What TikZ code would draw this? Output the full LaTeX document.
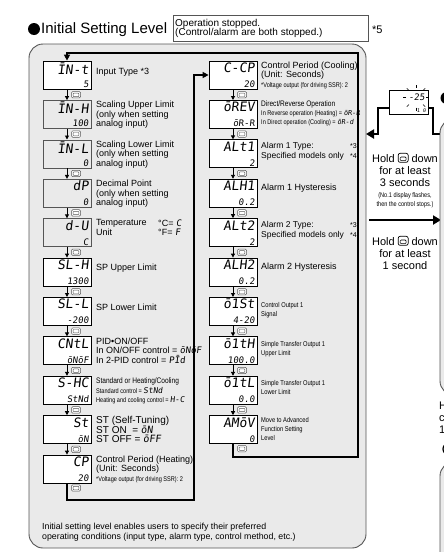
\documentclass[tikz,border=0pt]{standalone}
\usepackage{fontspec}
\setmainfont{Liberation Sans}
\newfontfamily\segfont[FakeSlant=0.12]{DejaVu Sans Mono}
\newfontfamily\narrowfont[FakeStretch=0.82]{Liberation Sans}
\usetikzlibrary{arrows.meta,calc}
\definecolor{panelgray}{RGB}{234,234,234}
\definecolor{edgegray}{RGB}{85,85,85}
\newcommand\sg[1]{{\segfont #1}}
\newcommand\holdkey{\tikz[baseline=-0.5pt,x=1pt,y=1pt]{\draw[line width=0.7pt,rounded corners=2pt] (0,-0.5) rectangle (10,8.5);\draw[line width=0.6pt,rounded corners=1pt] (2,1.2) rectangle (8,4.8);}}
\tikzset{
 panel/.style={draw=edgegray, line width=0.9pt, fill=panelgray, rounded corners=14pt},
 disp/.style={draw=black, line width=0.8pt, fill=white, minimum width=48pt, minimum height=28pt, inner sep=0pt},
 dispgray/.style={draw=edgegray, line width=0.6pt, fill=panelgray},
 segtop/.style={anchor=north east, inner sep=0pt, font=\segfont\fontsize{13}{13}\selectfont},
 segbot/.style={anchor=south east, inner sep=0pt, font=\segfont\fontsize{9}{9}\selectfont},
 lbl/.style={anchor=north west, inner sep=0pt, align=left, font=\fontsize{9}{9.5}\selectfont},
 lblw/.style={anchor=west, inner sep=0pt, font=\fontsize{9}{9.5}\selectfont},
 sml/.style={anchor=west, inner sep=0pt, font=\narrowfont\fontsize{6.8}{7}\selectfont},
 smlb/.style={anchor=north west, inner sep=0pt, align=left, font=\narrowfont\fontsize{7}{9}\selectfont},
 loopline/.style={line width=1.6pt, draw=black},
 flowarrow/.style={line width=0.9pt, -{Triangle[length=4pt,width=4pt]}},
 bigarrow/.style={line width=2.4pt, -{Triangle[length=8pt,width=9pt]}},
 holdtxt/.style={anchor=center, inner sep=0pt, align=center, font=\fontsize{11}{12.3}\selectfont},
 keyicon/.pic={
   \draw[edgegray, line width=0.5pt, fill=white, rounded corners=1.2pt] (-4.5,-3.2) rectangle (4.5,3.2);
   \draw[edgegray, line width=0.45pt, rounded corners=0.6pt] (-2.8,-1.6) rectangle (2.8,1.8);
 },
}
\newcommand\segbox[6]{%
  \node[disp,#6] (#1) at (#2,#3) {};
  \node[segtop] at ([xshift=-2.5pt,yshift=-2pt]#1.north east) {#4};
  \node[segbot] at ([xshift=-2.5pt,yshift=1.5pt]#1.south east) {#5};
}
\begin{document}
\begin{tikzpicture}[x=1pt,y=-1pt]
\clip (0,0) rectangle (444,552);
\fill[white] (0,0) rectangle (444,552);

% ---- title
\fill (34,29) circle (6);
\node[anchor=west, inner sep=0pt, font=\fontsize{15}{15}\selectfont] (title) at (41,30) {Initial Setting Level};
\node[draw=edgegray, line width=0.7pt, minimum width=195pt, minimum height=26pt, anchor=north west, inner sep=0pt] (hdr) at (173,15) {};
\node[anchor=west, inner sep=0pt, align=left, font=\fontsize{10}{9.6}\selectfont] (hdrtxt) at ([xshift=2pt]hdr.west) {Operation stopped.\\(Control/alarm are both stopped.)};
\node[anchor=west, inner sep=0pt, font=\fontsize{11}{11}\selectfont] (n5) at (372,30) {*5};

% ---- main panel
\draw[panel] (29,44) rectangle (366,548);

% ---- left column
\segbox{A1}{67}{75}{ĪN-t}{5}{}
\segbox{A2}{67}{114.4}{ĪN-H}{100}{dispgray}
\segbox{A3}{67}{153.8}{ĪN-L}{0}{dispgray}
\segbox{A4}{67}{193.2}{dP}{0}{dispgray}
\segbox{A5}{67}{232.6}{d-U}{C}{dispgray}
\segbox{A6}{67}{272}{SL-H}{1300}{}
\segbox{A7}{67}{311.4}{SL-L}{-200}{}
\segbox{A8}{67}{350.8}{CNtL}{ōNōF}{}
\segbox{A9}{67}{390.2}{S-HC}{StNd}{}
\segbox{A10}{67}{429.6}{St}{ōN}{}
\segbox{A11}{67}{469}{CP}{20}{}

% ---- right column
\segbox{B1}{233}{75}{C-CP}{20}{}
\segbox{B2}{233}{114.4}{ōREV}{ōR-R}{}
\segbox{B3}{233}{153.8}{ALt1}{2}{}
\segbox{B4}{233}{193.2}{ALH1}{0.2}{}
\segbox{B5}{233}{232.6}{ALt2}{2}{}
\segbox{B6}{233}{272}{ALH2}{0.2}{}
\segbox{B7}{233}{311.4}{ō1St}{4-20}{}
\segbox{B8}{233}{350.8}{ō1tH}{100.0}{}
\segbox{B9}{233}{390.2}{ō1tL}{0.0}{}
\segbox{B10}{233}{429.6}{AMōV}{0}{}

% ---- flow arrows and key icons
\foreach \a/\b in {A1/A2,A2/A3,A3/A4,A4/A5,A5/A6,A6/A7,A7/A8,A8/A9,A9/A10,A10/A11,B1/B2,B2/B3,B3/B4,B4/B5,B5/B6,B6/B7,B7/B8,B8/B9,B9/B10}{
  \draw[flowarrow] (\a.south) -- (\b.north);
  \pic at ($(\a.south)!0.5!(\b.north)+(9,0)$) {keyicon};
}
\pic at (76,488) {keyicon};
\pic at (242,448.6) {keyicon};

% ---- loop lines
\coordinate (l1) at (67,500);
\coordinate (l2) at (194,500);
\coordinate (l3) at (194,75);
\draw[loopline, -{Triangle[length=6pt,width=6pt]}] (A11.south) -- (l1) -- (l2) -- (l3) -- (B1.west);
\coordinate (r1) at (233,457);
\coordinate (r2) at (358,457);
\coordinate (r3) at (358,53);
\coordinate (r4) at (67,53);
\draw[loopline, -{Triangle[length=6pt,width=6pt]}] (B10.south) -- (r1) -- (r2) -- (r3) -- (r4) -- (A1.north);

% ---- left labels
\node[lblw] at (96,72) {Input Type *3};
\node[lbl] at (96,101) {Scaling Upper Limit\\(only when setting\\analog input)};
\node[lbl] at (96,140.5) {Scaling Lower Limit\\(only when setting\\analog input)};
\node[lbl] at (96,180) {Decimal Point\\(only when setting\\analog input)};
\node[lbl] at (96,219.5) {Temperature\\Unit};
\node[lbl] at (158,219.5) {°C= \sg{C}\\°F= \sg{F}};
\node[lblw] at (96,268) {SP Upper Limit};
\node[lblw] at (96,307.5) {SP Lower Limit};
\node[lbl] at (96,337.5) {PID•ON/OFF\\In ON/OFF control = \sg{ōNōF}\\In 2-PID control = \sg{PĪd}};
\node[sml, font=\narrowfont\fontsize{8}{8}\selectfont] at (96,381) {Standard or Heating/Cooling};
\node[sml] at (96,391) {Standard control = \sg{\fontsize{8}{8}\selectfont StNd}};
\node[sml] at (96,400) {Heating and cooling control = \sg{\fontsize{8}{8}\selectfont H-C}};
\node[lbl, font=\fontsize{10}{9}\selectfont] at (96,416) {ST (Self-Tuning)\\ST ON\ \ = \sg{ōN}\\ST OFF = \sg{ōFF}};
\node[lbl] at (96,455.5) {Control Period (Heating)\\(Unit: Seconds)};
\node[sml] at (96,479.5) {*Voltage output (for driving SSR): 2};

% ---- right labels
\node[lbl] at (261,61.5) {Control Period (Cooling)\\(Unit: Seconds)};
\node[sml] at (261,85.5) {*Voltage output (for driving SSR): 2};
\node[sml, font=\narrowfont\fontsize{8}{8}\selectfont] at (261,104) {Direct/Reverse Operation};
\node[sml] at (261,114) {In Reverse operation (Heating) = \sg{ōR-R}};
\node[sml] at (261,123) {In Direct operation (Cooling) = \sg{ōR-d}};
\node[lbl, font=\fontsize{8.5}{10}\selectfont] at (261,142) {Alarm 1 Type:\\Specified models only};
\node[sml, font=\fontsize{7}{7}\selectfont] at (350,146.5) {*3};
\node[sml, font=\fontsize{7}{7}\selectfont] at (350,156) {*4};
\node[lblw] at (261,188) {Alarm 1 Hysteresis};
\node[lbl, font=\fontsize{8.5}{10}\selectfont] at (261,221) {Alarm 2 Type:\\Specified models only};
\node[sml, font=\fontsize{7}{7}\selectfont] at (350,225.5) {*3};
\node[sml, font=\fontsize{7}{7}\selectfont] at (350,235) {*4};
\node[lblw] at (261,267) {Alarm 2 Hysteresis};
\node[smlb] at (261,302) {Control Output 1\\Signal};
\node[smlb] at (261,341) {Simple Transfer Output 1\\Upper Limit};
\node[smlb] at (261,380.5) {Simple Transfer Output 1\\Lower Limit};
\node[smlb] at (261,417) {Move to Advanced\\Function Setting\\Level};

% ---- bottom text
\node[lbl, font=\fontsize{8.8}{10}\selectfont] at (42,523) {Initial setting level enables users to specify their preferred\\operating conditions (input type, alarm type, control method, etc.)};

% ---- right side: display icon and transitions
\node[draw=black, line width=0.6pt, fill=white, minimum width=39pt, minimum height=24pt, inner sep=0pt] (mon) at (408.5,102) {};
\node[anchor=north east, inner sep=0pt, font=\segfont\fontsize{9}{9}\selectfont] (monv) at (425,93.5) {-25};
\node[anchor=south east, inner sep=0pt, font=\segfont\fontsize{5}{5}\selectfont] (monb) at (426,112.5) {1 0};
\foreach \ang in {0,45,90,135,180,225,270,315}{
  \draw[line width=0.4pt] ($(416,97.5)+(\ang:10)$) -- ($(416,97.5)+(\ang:13)$);
}
\coordinate (lg1) at (378,108);
\coordinate (lg2) at (378,134);
\coordinate (lg3) at (366,134);
\draw[line width=2pt, -{Triangle[length=8pt,width=9pt]}] (mon.west |- lg1) -- (lg1) -- (lg2) -- (lg3);
\coordinate (rg1) at (433,108);
\coordinate (rg2) at (433,134);
\coordinate (rg3) at (441,134);
\draw[line width=2pt] (mon.east |- rg1) -- (rg1) -- (rg2) -- (rg3);

\node[holdtxt] (h3) at (405,170) {Hold \holdkey{} down\\for at least\\3 seconds};
\node[holdtxt, font=\narrowfont\fontsize{6.8}{8.5}\selectfont] (h3n) at (405,200) {(No.1 display flashes,\\then the control stops.)};
\coordinate (ar1) at (369,220);
\coordinate (ar2) at (441,220);
\draw[bigarrow] (ar1) -- (ar2);
\node[holdtxt] (h1) at (405,253) {Hold \holdkey{} down\\for at least\\1 second};

% ---- partial neighbouring panel
\draw[panel] (440,119) rectangle (500,395);
\fill (446.5,98) circle (6);
\node[anchor=west, inner sep=0pt, align=left, font=\fontsize{11}{12}\selectfont] (cut) at (439,418) {H\\c\\1};
\draw[line width=1.2pt] (449,449) circle (6);
\draw[panel] (440,462) rectangle (500,620);
\end{tikzpicture}
\end{document}
